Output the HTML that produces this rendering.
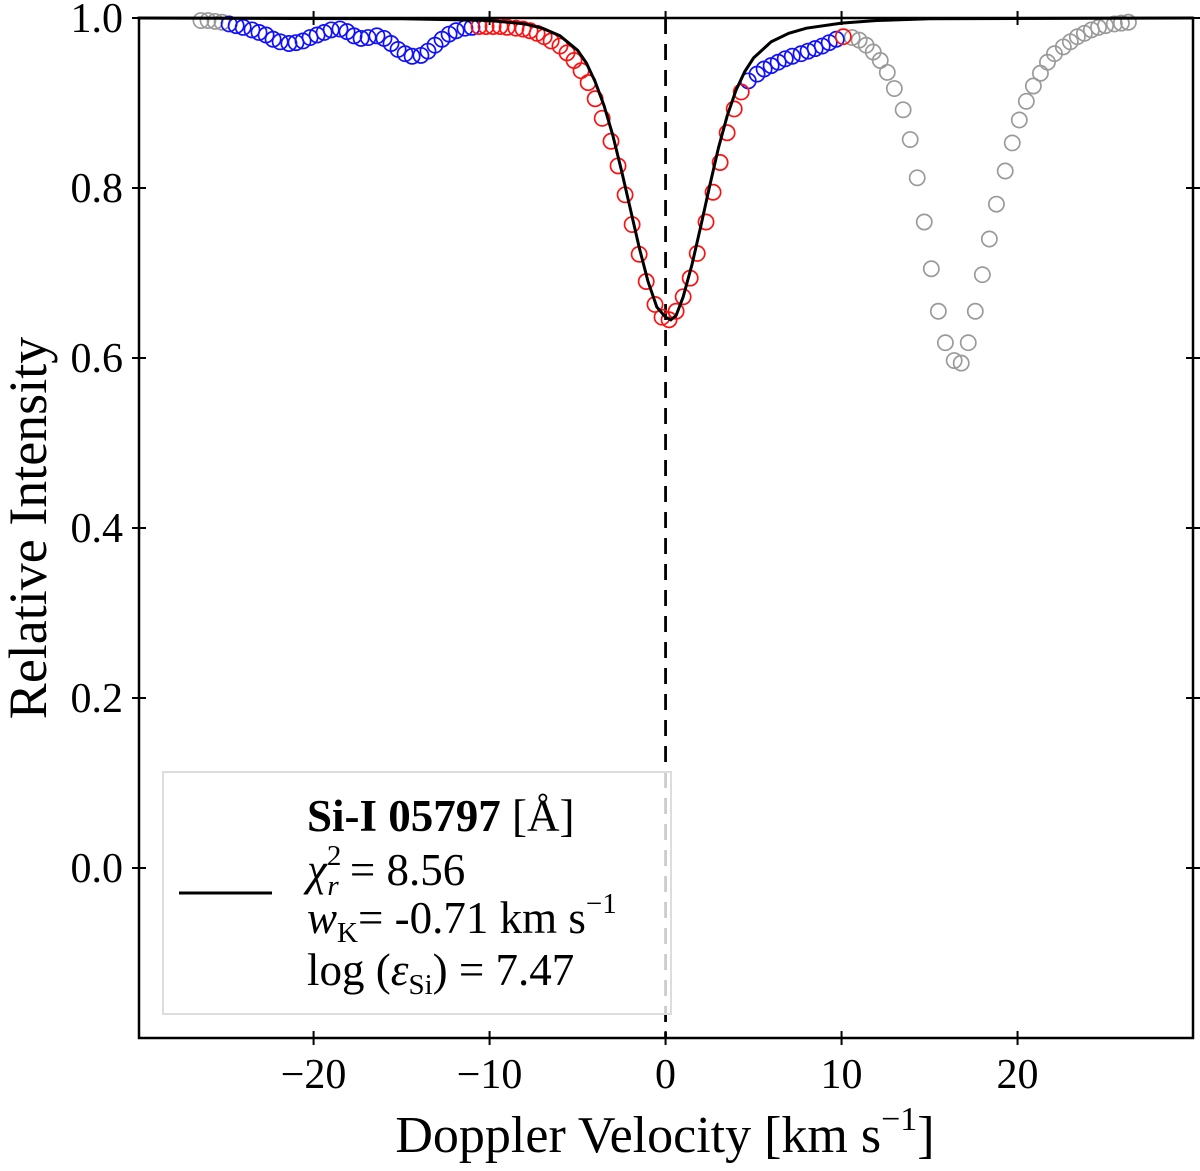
<!DOCTYPE html>
<html><head><meta charset="utf-8"><style>
body{margin:0;background:#fff;}
svg{display:block;font-family:"Liberation Serif",serif;}
</style></head><body>
<svg id="chart" width="1200" height="1171" viewBox="0 0 1200 1171" xmlns="http://www.w3.org/2000/svg">
<g id="plot"></g>
</svg>
<script>
const xTicks=[-20,-10,0,10,20];
const yTicks=[0.0,0.2,0.4,0.6,0.8,1.0];
const grayLeftV=[-26.4,-26.0,-25.6,-25.2];
const grayLeftI=[0.997,0.997,0.996,0.995];
const blueLeftV=[-24.8,-24.4,-24.0,-23.5,-23.1,-22.7,-22.3,-21.9,-21.4,-21.0,-20.6,-20.2,-19.8,-19.4,-19.0,-18.5,-18.1,-17.7,-17.3,-16.9,-16.4,-16.0,-15.6,-15.2,-14.8,-14.4,-13.9,-13.5,-13.1,-12.7,-12.3,-11.9,-11.4,-11.0];
const blueLeftI=[0.993,0.991,0.989,0.986,0.983,0.980,0.975,0.972,0.970,0.971,0.973,0.977,0.980,0.983,0.986,0.987,0.984,0.979,0.976,0.977,0.979,0.976,0.970,0.963,0.958,0.955,0.956,0.961,0.968,0.975,0.981,0.985,0.988,0.989];
const redV=[-10.6,-10.2,-9.8,-9.4,-9.0,-8.5,-8.1,-7.7,-7.3,-6.9,-6.5,-6.0,-5.6,-5.2,-4.8,-4.4,-4.0,-3.6,-3.1,-2.7,-2.3,-1.9,-1.5,-1.1,-0.6,-0.2,0.2,0.6,1.0,1.4,1.8,2.3,2.7,3.1,3.5,3.9,4.3];
const redI=[0.990,0.990,0.990,0.990,0.989,0.988,0.987,0.985,0.982,0.978,0.973,0.967,0.959,0.950,0.938,0.924,0.905,0.882,0.855,0.826,0.792,0.757,0.722,0.690,0.663,0.648,0.645,0.655,0.672,0.694,0.723,0.760,0.795,0.830,0.865,0.893,0.913];
const blueRightV=[4.7,5.2,5.6,6.0,6.4,6.8,7.2,7.7,8.1,8.5,8.9,9.3,9.7];
const blueRightI=[0.926,0.934,0.940,0.944,0.948,0.952,0.955,0.958,0.961,0.964,0.967,0.971,0.975];
const redRightV=[10.1];
const redRightI=[0.978];
const grayRightV=[10.6,11.0,11.4,11.8,12.2,12.6,13.0,13.5,13.9,14.3,14.7,15.1,15.5,15.9,16.4,16.8,17.2,17.6,18.0,18.4,18.8,19.3,19.7,20.1,20.5,20.9,21.3,21.7,22.1,22.6,23.0,23.4,23.8,24.2,24.6,25.0,25.5,25.9,26.3];
const grayRightI=[0.977,0.974,0.968,0.960,0.950,0.936,0.917,0.892,0.857,0.812,0.760,0.705,0.655,0.618,0.597,0.594,0.618,0.655,0.698,0.740,0.781,0.820,0.853,0.880,0.902,0.920,0.935,0.948,0.958,0.966,0.972,0.978,0.982,0.986,0.989,0.991,0.993,0.994,0.995];
const fitV=[-30,-15,-12,-10,-8,-7,-6,-5,-4.5,-4,-3.5,-3,-2.5,-2,-1.5,-1,-0.5,0,0.3,0.6,1,1.5,2,2.5,3,3.5,4,4.5,5,6,7,8,10,12,15,30];
const fitI=[1.0,0.999,0.998,0.997,0.993,0.988,0.979,0.962,0.947,0.925,0.897,0.862,0.820,0.775,0.730,0.690,0.660,0.648,0.645,0.650,0.672,0.710,0.755,0.802,0.847,0.885,0.915,0.937,0.953,0.972,0.982,0.988,0.994,0.997,0.999,1.0];

const L=139,R=1193,T=18,B=1038;
const xmin=-29.92,xmax=29.97,ymin=-0.2,ymax=1.0;
const xs=v=>L+(v-xmin)/(xmax-xmin)*(R-L);
const ys=v=>B-(v-ymin)/(ymax-ymin)*(B-T);
const NS='http://www.w3.org/2000/svg';
const g=document.getElementById('plot');
function mk(tag,attrs,parent){const e=document.createElementNS(NS,tag);for(const k in attrs)e.setAttribute(k,attrs[k]);(parent||g).appendChild(e);return e;}

let dl=mk('line',{x1:xs(0),x2:xs(0),y1:T,y2:B,stroke:'#000','stroke-width':2.8,'stroke-dasharray':'16,10'});



function series(vs,is,color,name){
  const grp=mk('g',{});
  
  
  vs.forEach((v,i)=>{
    const c=mk('circle',{cx:xs(v),cy:ys(is[i]),r:7.6,fill:'none',stroke:color,'stroke-width':1.7},grp);
    
    
  });
}
series(grayLeftV,grayLeftI,'#9a9a9a','excluded-points-left');
series(grayRightV,grayRightI,'#9a9a9a','excluded-points-right');
series(blueLeftV,blueLeftI,'#1010ff','masked-points-left');
series(blueRightV,blueRightI,'#1010ff','masked-points-right');
series(redV,redI,'#ff1010','fitted-points');
series(redRightV,redRightI,'#ff1010','fitted-points-right');

let fp=mk('path',{d:fitV.map((v,i)=>(i?'L':'M')+xs(v).toFixed(1)+','+ys(fitI[i]).toFixed(1)).join(''),fill:'none',stroke:'#000','stroke-width':3});



let fr=mk('rect',{x:L,y:T,width:R-L,height:B-T,fill:'none',stroke:'#000','stroke-width':2.5});



xTicks.forEach(t=>{
  const x=xs(t);
  mk('line',{x1:x,x2:x,y1:B-7,y2:B+7,stroke:'#000','stroke-width':2});
  mk('line',{x1:x,x2:x,y1:T-7,y2:T+7,stroke:'#000','stroke-width':2});
  const tx=mk('text',{x:x,y:1088,'text-anchor':'middle','font-size':42});
  tx.textContent=(t<0?'\u2212':'')+Math.abs(t);
  
  
});
yTicks.forEach(t=>{
  const y=ys(t);
  mk('line',{x1:L-7,x2:L+7,y1:y,y2:y,stroke:'#000','stroke-width':2});
  mk('line',{x1:R-7,x2:R+7,y1:y,y2:y,stroke:'#000','stroke-width':2});
  const tx=mk('text',{x:123,y:y+14,'text-anchor':'end','font-size':42});
  tx.textContent=t.toFixed(1);
  
  
});
</script>
<svg style="position:absolute;left:0;top:0" width="1200" height="1171">
<g font-family="Liberation Serif, serif">
<rect x="163" y="772" width="508" height="242" fill="#fff" fill-opacity="0.8" stroke="#ddd" stroke-width="2"/>
<line x1="179" x2="272" y1="893" y2="893" stroke="#000" stroke-width="3"/>
<text x="307" y="831" font-size="45"><tspan font-weight="bold">Si-I 05797</tspan> [Å]</text>
<text x="307" y="885" font-size="45"><tspan font-style="italic">χ</tspan><tspan font-size="29" dy="-20">2</tspan><tspan font-size="29" font-style="italic" dx="-14" dy="30">r</tspan><tspan dy="-10"> = 8.56</tspan></text>
<text x="307" y="933" font-size="45"><tspan font-style="italic">w</tspan><tspan font-size="29" dy="9">K</tspan><tspan dy="-9">= -0.71 km s</tspan><tspan font-size="29" dy="-20">−1</tspan></text>
<text x="307" y="985" font-size="45">log (<tspan font-style="italic">ε</tspan><tspan font-size="29" dy="9">Si</tspan><tspan dy="-9">) = 7.47</tspan></text>
<text x="665" y="1152" text-anchor="middle" font-size="52">Doppler Velocity [km s<tspan font-size="34" dy="-22">−1</tspan><tspan dy="22">]</tspan></text>
<text transform="translate(46,528) rotate(-90)" text-anchor="middle" font-size="54">Relative Intensity</text>
</g>
</svg>
</body></html>
